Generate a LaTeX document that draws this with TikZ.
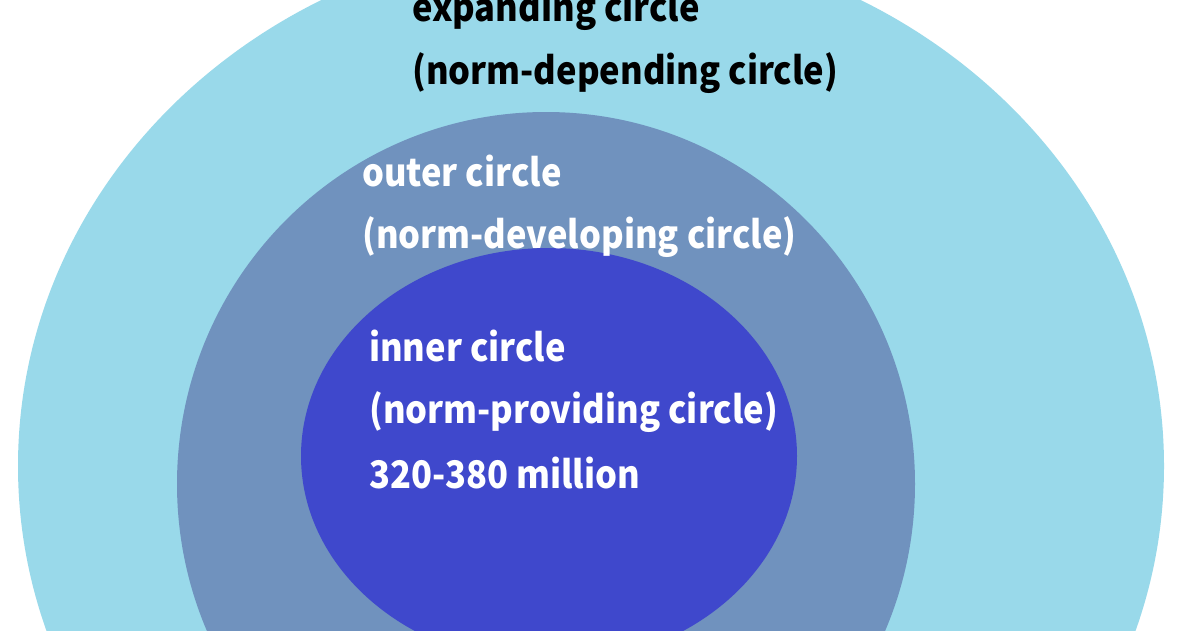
\documentclass[tikz,border=0pt]{standalone}
\usepackage{fontspec}
\setmainfont{Noto Sans CJK JP}
\definecolor{ringlight}{HTML}{99D9EA}
\definecolor{ringmid}{HTML}{7092BE}
\definecolor{ringinner}{HTML}{3F48CC}
\newcommand{\tallword}[1]{\scalebox{1}[1.1]{#1}}
\begin{document}
\begin{tikzpicture}[x=1pt,y=-1pt,
  lab/.style={anchor=base west, inner sep=0pt, font=\fontsize{34.5}{40}\selectfont\bfseries},
  darklab/.style={lab, text=black},
  lightlab/.style={lab, text=white}]
\useasboundingbox (0,0) rectangle (1200,630);
\fill[white] (0,0) rectangle (1200,630);
\begin{scope}
\clip (0,0) rectangle (1200,630);
\fill[ringlight] (591,466) ellipse [x radius=573, y radius=528];
\fill[ringmid] (546,484) ellipse [x radius=369, y radius=372];
\fill[ringinner] (549,456) ellipse [x radius=248, y radius=208];
\end{scope}
\node[darklab] (e1) at (412,21) {\tallword{expanding circle}};
\node[darklab] (e2) at (412,84) {\tallword{(norm-depending circle)}};
\node[lightlab] (o1) at (362,186) {\tallword{outer circle}};
\node[lightlab] (o2) at (362,248) {\tallword{(norm-developing circle)}};
\node[lightlab] (i1) at (369,361) {\tallword{inner circle}};
\node[lightlab] (i2) at (369,423) {\tallword{(norm-providing circle)}};
\node[lightlab] (i3) at (369,488) {\tallword{320-380 million}};
\end{tikzpicture}
\end{document}
